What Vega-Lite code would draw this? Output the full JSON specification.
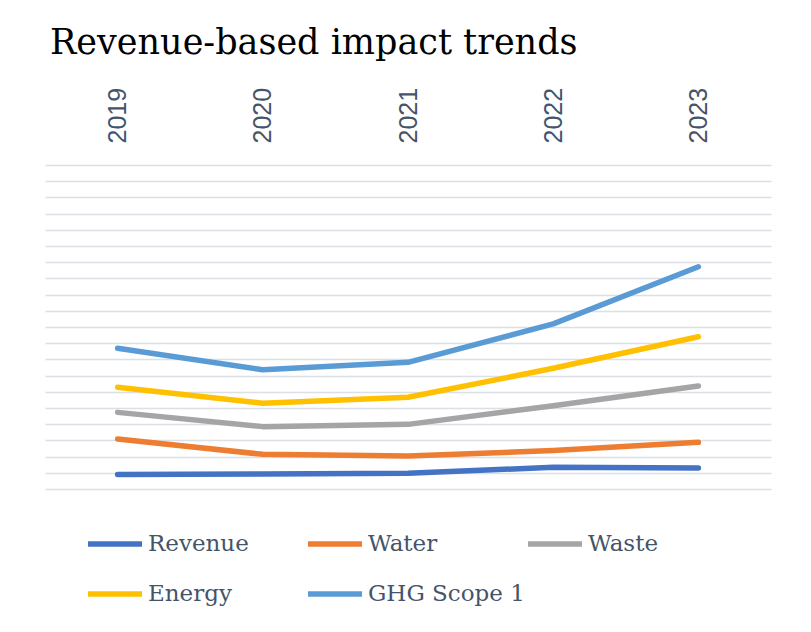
{
  "$schema": "https://vega.github.io/schema/vega-lite/v6.json",
  "width": 726,
  "height": 324,
  "autosize": {"type": "none"},
  "padding": {"left": 45, "top": 165, "right": 40, "bottom": 143},
  "background": "white",
  "title": {
    "text": "Revenue-based impact trends",
    "anchor": "start",
    "font": "DejaVu Serif",
    "fontSize": 35,
    "fontWeight": "normal",
    "color": "#000000",
    "dx": 5,
    "offset": 26
  },
  "data": {
    "values": [
      {"year": "2019", "series": "Revenue", "value": 0.9},
      {"year": "2020", "series": "Revenue", "value": 0.92},
      {"year": "2021", "series": "Revenue", "value": 0.97},
      {"year": "2022", "series": "Revenue", "value": 1.34},
      {"year": "2023", "series": "Revenue", "value": 1.3},
      {"year": "2019", "series": "Water", "value": 3.09},
      {"year": "2020", "series": "Water", "value": 2.14},
      {"year": "2021", "series": "Water", "value": 2.04},
      {"year": "2022", "series": "Water", "value": 2.37},
      {"year": "2023", "series": "Water", "value": 2.88},
      {"year": "2019", "series": "Waste", "value": 4.73},
      {"year": "2020", "series": "Waste", "value": 3.85},
      {"year": "2021", "series": "Waste", "value": 3.99},
      {"year": "2022", "series": "Waste", "value": 5.14},
      {"year": "2023", "series": "Waste", "value": 6.36},
      {"year": "2019", "series": "Energy", "value": 6.28},
      {"year": "2020", "series": "Energy", "value": 5.29},
      {"year": "2021", "series": "Energy", "value": 5.66},
      {"year": "2022", "series": "Energy", "value": 7.45},
      {"year": "2023", "series": "Energy", "value": 9.4},
      {"year": "2019", "series": "GHG Scope 1", "value": 8.69},
      {"year": "2020", "series": "GHG Scope 1", "value": 7.36},
      {"year": "2021", "series": "GHG Scope 1", "value": 7.82},
      {"year": "2022", "series": "GHG Scope 1", "value": 10.19},
      {"year": "2023", "series": "GHG Scope 1", "value": 13.72}
    ]
  },
  "mark": {"type": "line", "strokeWidth": 5.5, "strokeCap": "round", "strokeJoin": "round"},
  "encoding": {
    "x": {
      "field": "year",
      "type": "ordinal",
      "scale": {"type": "point", "padding": 0.5},
      "axis": {
        "orient": "top",
        "title": null,
        "labelAngle": 270,
        "labelAlign": "left",
        "labelBaseline": "middle",
        "labelFont": "Liberation Sans",
        "labelFontSize": 25,
        "labelColor": "#44546A",
        "labelPadding": 22,
        "ticks": false,
        "domain": false,
        "grid": false
      }
    },
    "y": {
      "field": "value",
      "type": "quantitative",
      "scale": {"domain": [0, 20], "nice": false},
      "axis": {
        "title": null,
        "labels": false,
        "ticks": false,
        "domain": false,
        "values": [0,1,2,3,4,5,6,7,8,9,10,11,12,13,14,15,16,17,18,19,20],
        "grid": true,
        "gridColor": "#DCE0E6",
        "gridWidth": 1.6
      }
    },
    "color": {
      "field": "series",
      "type": "nominal",
      "scale": {
        "domain": ["Revenue", "Water", "Waste", "Energy", "GHG Scope 1"],
        "range": ["#4472C4", "#ED7D31", "#A5A5A5", "#FFC000", "#5B9BD5"]
      },
      "legend": {
        "title": null,
        "orient": "none",
        "legendX": 40,
        "legendY": 349,
        "direction": "horizontal",
        "columns": 3,
        "gridAlign": "all",
        "symbolType": "stroke",
        "symbolSize": 2916,
        "symbolStrokeWidth": 5.5,
        "labelFont": "DejaVu Serif",
        "labelFontSize": 23,
        "labelLimit": 400,
        "labelColor": "#44546A",
        "labelOffset": 3,
        "columnPadding": -18,
        "rowPadding": 8
      }
    }
  },
  "config": {"view": {"stroke": null}}
}
